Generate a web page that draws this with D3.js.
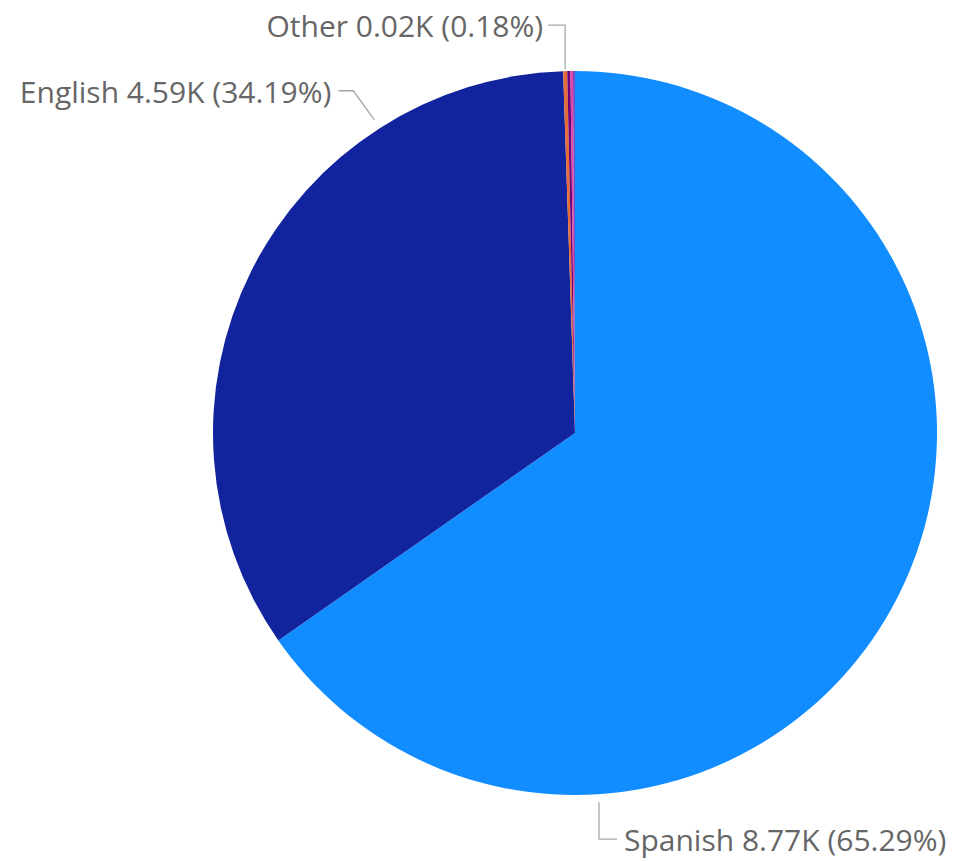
<!DOCTYPE html>
<html>
<head>
<meta charset="utf-8">
<script src="https://cdn.jsdelivr.net/npm/d3@7"></script>
<style>
  html, body { margin: 0; padding: 0; background: #ffffff; }
  svg { display: block; }
  text { font-family: "Open Sans", "Segoe UI", sans-serif; }
</style>
</head>
<body>
<svg id="chart" width="958" height="861"></svg>
<script>
// Language breakdown (counts), drawn clockwise from 12 o'clock
const languages = ["Spanish", "English", "Other", "Portuguese", "French", "German"];
const counts = [8769, 4592, 24, 19, 15, 12];
const colors = ["#118DFF", "#12239E", "#E66C37", "#6B007B", "#E044A7", "#744EC2"];
const labelled = ["Spanish", "English", "Other"];

const width = 958, height = 861;
const cx = 575, cy = 433, radius = 362;

const svg = d3.select("#chart");
const g = svg.append("g").attr("transform", `translate(${cx},${cy})`);

const data = languages.map((name, i) => ({ name, value: counts[i], color: colors[i] }));
const total = d3.sum(counts);

const pie = d3.pie().sort(null).value(d => d.value);
const arc = d3.arc().innerRadius(0).outerRadius(radius);
const arcs = pie(data);

g.selectAll("path.slice")
  .data(arcs)
  .join("path")
  .attr("class", "slice")
  .attr("d", arc)
  .attr("fill", d => d.data.color);

// Label layout: where along the slice the leader starts, and elbow/text geometry
const layout = {
  Spanish: { t: 0.75, rOff: 8, elbow: [0, 37], run: 18, gap: 7 },
  English: { t: 0.75, rOff: 10, elbow: [-21, -29], run: -15, gap: 7 },
  Other:   { t: 0.5,  rOff: 2, elbow: [0, -44], run: -17, gap: 5 }
};

const fmtK = v => (v / 1000).toFixed(2) + "K";
const fmtPct = v => (v / total * 100).toFixed(2) + "%";

arcs.filter(d => labelled.includes(d.data.name)).forEach(d => {
  const L = layout[d.data.name];
  const a = d.startAngle + (d.endAngle - d.startAngle) * L.t;
  const r = radius + L.rOff;
  const p0 = [r * Math.sin(a), -r * Math.cos(a)];
  const p1 = [p0[0] + L.elbow[0], p0[1] + L.elbow[1]];
  const p2 = [p1[0] + L.run, p1[1]];

  g.append("polyline")
    .attr("points", [p0, p1, p2].map(p => p.join(",")).join(" "))
    .attr("fill", "none")
    .attr("stroke", "#a8a8a8")
    .attr("stroke-width", 1.3);

  const right = L.run > 0;
  g.append("text")
    .attr("x", p2[0] + (right ? L.gap : -L.gap))
    .attr("y", p2[1])
    .attr("dy", "0.4em")
    .attr("text-anchor", right ? "start" : "end")
    .attr("font-size", 30)
    .attr("fill", "#666666")
    .text(`${d.data.name} ${fmtK(d.data.value)} (${fmtPct(d.data.value)})`);
});
</script>
</body>
</html>
